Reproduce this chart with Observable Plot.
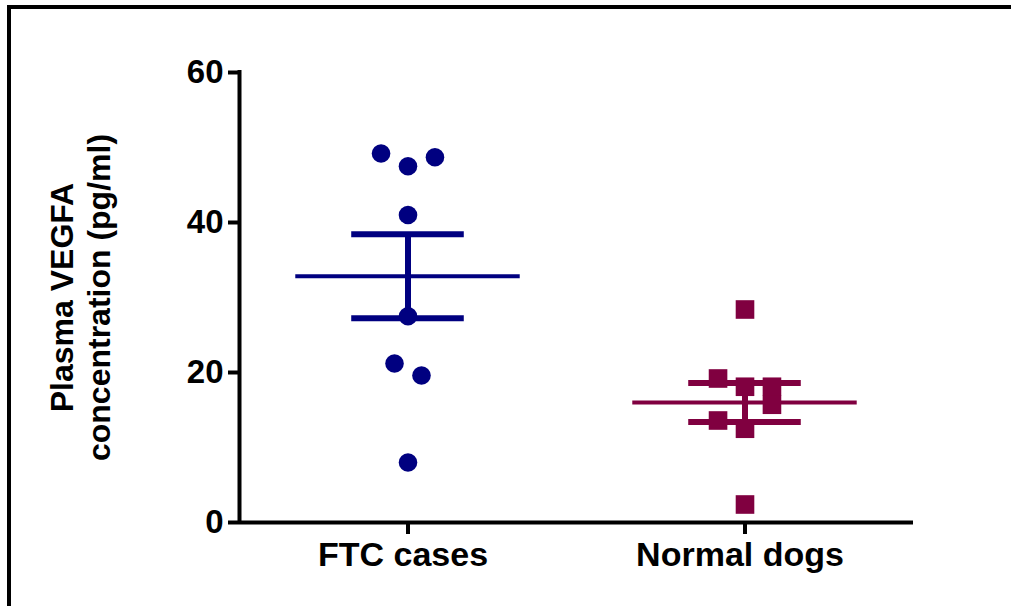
<!DOCTYPE html>
<html><head><meta charset="utf-8">
<script src="https://cdn.jsdelivr.net/npm/d3@7"></script>
<script src="https://cdn.jsdelivr.net/npm/@observablehq/plot@0.6"></script>
<style>
html,body{margin:0;padding:0;background:#fff;}
#wrap{position:relative;width:1011px;height:606px;overflow:hidden;}
#frame{position:absolute;left:7px;top:5px;right:-10px;bottom:-10px;border-top:4px solid #000;border-left:4px solid #000;}
#chart{position:absolute;left:0;top:0;}
</style></head><body>
<div id="wrap"><div id="frame"></div><div id="chart"></div></div>
<script>
// ---- data ----
const groups = ["FTC cases", "Normal dogs"];
const ftcValues = [49.2, 47.5, 48.7, 41.0, 27.5, 21.2, 19.6, 8.0];
const ftcSlot   = [-1, 0, 1, 0, 0, -0.5, 0.5, 0];      // scatter column within group
const normalValues = [28.4, 19.2, 18.1, 18.1, 15.7, 13.6, 12.5, 2.4];
const normalSlot   = [0, -1, 0, 1, 1, -1, 0, 0];
const yTicks = [0, 20, 40, 60];
const yLabel = "Plasma VEGFA\nconcentration (pg/ml)";

// ---- derived tables ----
const colors = ["#000080", "#800040"];
const SPREAD = 0.08, MEANW = 0.333, CAPW = 0.167;
const points = [
  ...ftcValues.map((v, k) => ({g: 0, v, slot: ftcSlot[k]})),
  ...normalValues.map((v, k) => ({g: 1, v, slot: normalSlot[k]}))
];
const stats = [ftcValues, normalValues].map((vals, i) => {
  const m = d3.mean(vals), sem = d3.deviation(vals) / Math.sqrt(vals.length);
  return {i, mean: m, lo: m - sem, hi: m + sem};
});

const plot = Plot.plot({
  width: 1011, height: 606,
  marginLeft: 239, marginRight: 98, marginTop: 72, marginBottom: 84,
  style: {fontFamily: "'Liberation Sans', Arial, sans-serif", background: "transparent", overflow: "visible", color: "#000"},
  x: {domain: [-0.5, 1.5], axis: null},
  y: {domain: [0, 60], axis: null},
  marks: [
    Plot.ruleX([-0.5], {y1: 0, y2: 60, strokeWidth: 4, stroke: "#000", strokeLinecap: "square"}),
    Plot.ruleY([0], {x1: -0.5, x2: 1.5, strokeWidth: 4, stroke: "#000"}),
    Plot.axisY({ticks: yTicks, tickSize: 11, tickPadding: 5, strokeWidth: 4, fontSize: 33, fontWeight: "bold", anchor: "left", label: null, tickFormat: d => String(d)}),
    Plot.axisX({ticks: [0, 1], tickSize: 12, strokeWidth: 4, anchor: "bottom", label: null, text: null}),
    Plot.axisX({ticks: [0, 1], tickFormat: i => groups[i], tickSize: 12, tickPadding: 7, strokeWidth: 0, fontSize: 34, fontWeight: "bold", anchor: "bottom", label: null, dx: -5}),
    Plot.text([yLabel], {text: d => d, frameAnchor: "left", textAnchor: "middle", lineAnchor: "middle", dx: -160, rotate: -90, fontSize: 32, fontWeight: "bold", lineHeight: 1.18, fill: "#000"}),
    // error bars
    Plot.ruleY(stats, {y: "mean", x1: d => d.i - MEANW, x2: d => d.i + MEANW, stroke: d => colors[d.i], strokeWidth: 4}),
    Plot.ruleY(stats, {y: "hi", x1: d => d.i - CAPW, x2: d => d.i + CAPW, stroke: d => colors[d.i], strokeWidth: 6}),
    Plot.ruleY(stats, {y: "lo", x1: d => d.i - CAPW, x2: d => d.i + CAPW, stroke: d => colors[d.i], strokeWidth: 6}),
    Plot.ruleX(stats, {x: "i", y1: "lo", y2: "hi", stroke: d => colors[d.i], strokeWidth: 6}),
    // points
    Plot.dot(points.filter(d => d.g === 0), {x: d => d.g + d.slot * SPREAD, y: "v", r: 9.3, fill: colors[0], stroke: null, symbol: "circle"}),
    Plot.dot(points.filter(d => d.g === 1), {x: d => d.g + d.slot * SPREAD, y: "v", r: 10.5, fill: colors[1], stroke: null, symbol: "square"})
  ]
});
document.getElementById("chart").appendChild(plot);
</script>
</body></html>
